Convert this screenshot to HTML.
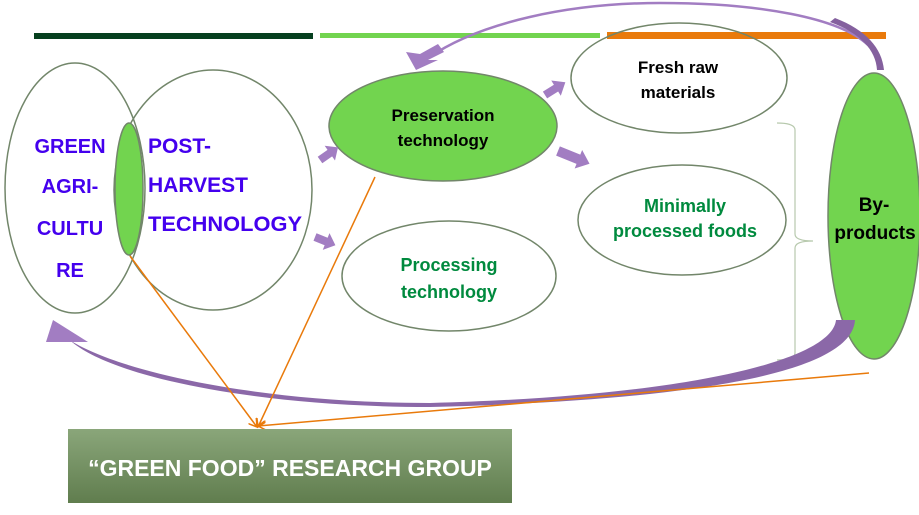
<!DOCTYPE html>
<html><head><meta charset="utf-8"><style>
html,body{margin:0;padding:0;background:#fff;}
svg{display:block;}
.b{font-family:"Liberation Sans",sans-serif;font-weight:bold;}
</style></head><body>
<svg width="919" height="515" viewBox="0 0 919 515" xmlns="http://www.w3.org/2000/svg">
<defs>
<linearGradient id="g" x1="0" y1="0" x2="0" y2="1">
<stop offset="0" stop-color="#8aa67a"/><stop offset="1" stop-color="#607d4e"/>
</linearGradient>
<marker id="ah" markerWidth="10" markerHeight="10" refX="8" refY="5" orient="auto" markerUnits="userSpaceOnUse">
<path d="M0,0 L8,5 L0,10" fill="none" stroke="#e97a0b" stroke-width="1.5"/>
</marker>
</defs>
<!-- top bars -->
<rect x="34" y="33" width="279" height="6" fill="#06401f"/>
<rect x="320" y="33" width="280" height="5" fill="#72d44f"/>
<rect x="607" y="32" width="279" height="7" fill="#e97a0b"/>

<!-- top purple arc -->
<path d="M428,58 C480,22 570,3 660,3 C760,3 840,18 868,45" fill="none" stroke="#a27dc2" stroke-width="2.5"/>
<path d="M830,22 C860,33 876,50 877,70 L884,70 C882,48 866,30 835,18 Z" fill="#84609e"/>
<polygon points="416,70 406,52 420,54 438,44 444,52 428,60 438,60" fill="#a27dc2"/>

<!-- ellipses -->
<ellipse cx="75" cy="188" rx="70" ry="125" fill="none" stroke="#72866a" stroke-width="1.5"/>
<ellipse cx="213" cy="190" rx="99" ry="120" fill="none" stroke="#72866a" stroke-width="1.5"/>
<ellipse cx="129" cy="189" rx="14" ry="66" fill="#72d44f" stroke="#72866a" stroke-width="1.5"/>
<ellipse cx="443" cy="126" rx="114" ry="55" fill="#72d44f" stroke="#72866a" stroke-width="1.5"/>
<ellipse cx="449" cy="276" rx="107" ry="55" fill="none" stroke="#72866a" stroke-width="1.5"/>
<ellipse cx="679" cy="78" rx="108" ry="55" fill="none" stroke="#72866a" stroke-width="1.5"/>
<ellipse cx="682" cy="220" rx="104" ry="55" fill="none" stroke="#72866a" stroke-width="1.5"/>
<ellipse cx="874" cy="216" rx="46" ry="143" fill="#72d44f" stroke="#72866a" stroke-width="1.5"/>

<!-- brace -->
<path d="M777,123 Q795,123 795,130 L795,234 Q795,241 813,241 Q795,241 795,248 L795,353 Q795,360 777,360" fill="none" stroke="#b7c9ad" stroke-width="1.2"/>

<!-- block arrows -->
<g fill="#a27dc2">
<polygon points="0,-4 12,-4 12,-9 22,0 12,9 12,4 0,4" transform="translate(320,160) rotate(-35)"/>
<polygon points="0,-4 12,-4 12,-9 22,0 12,9 12,4 0,4" transform="translate(315,237) rotate(22)"/>
<polygon points="0,-4 13,-4 13,-9 24,0 13,9 13,4 0,4" transform="translate(545,95) rotate(-32)"/>
<polygon points="0,-5 22,-5 22,-10 34,0 22,10 22,5 0,5" transform="translate(558,151) rotate(22)"/>
</g>

<!-- bottom purple arc -->
<path d="M855,320 C852,372 700,400 430,407 C260,407 115,378 72,342 L68,339 C118,372 260,403 430,403 C690,396 832,360 836,320 Z" fill="#8b68a8"/>
<polygon points="53,320 46,342 88,342" fill="#a27dc2"/>

<!-- orange lines -->
<line x1="130" y1="256" x2="257" y2="427" stroke="#e97a0b" stroke-width="1.5" marker-end="url(#ah)"/>
<line x1="375" y1="177" x2="258" y2="427" stroke="#e97a0b" stroke-width="1.5" marker-end="url(#ah)"/>
<line x1="869" y1="373" x2="258" y2="426" stroke="#e97a0b" stroke-width="1.5" marker-end="url(#ah)"/>

<!-- box -->
<rect x="68" y="429" width="444" height="74" fill="url(#g)"/>
<text x="290" y="476" text-anchor="middle" class="b" font-size="23" fill="#fff">“GREEN FOOD” RESEARCH GROUP</text>

<!-- texts -->
<g class="b" font-size="20" fill="#4400ee" text-anchor="middle">
<text x="70" y="153">GREEN</text>
<text x="70" y="193">AGRI-</text>
<text x="70" y="235">CULTU</text>
<text x="70" y="277">RE</text>
</g>
<g class="b" font-size="21" fill="#4400ee">
<text x="148" y="153">POST-</text>
<text x="148" y="192">HARVEST</text>
<text x="148" y="231" textLength="154" lengthAdjust="spacingAndGlyphs">TECHNOLOGY</text>
</g>
<g class="b" font-size="17" fill="#000" text-anchor="middle">
<text x="443" y="121">Preservation</text>
<text x="443" y="146">technology</text>
<text x="678" y="73">Fresh raw</text>
<text x="678" y="98">materials</text>
<text x="874" y="211" font-size="19">By-</text>
<text x="875" y="239" font-size="19">products</text>
</g>
<g class="b" font-size="18" fill="#008a3e" text-anchor="middle">
<text x="449" y="271">Processing</text>
<text x="449" y="298">technology</text>
<text x="685" y="212">Minimally</text>
<text x="685" y="237">processed foods</text>
</g>
</svg>
</body></html>
